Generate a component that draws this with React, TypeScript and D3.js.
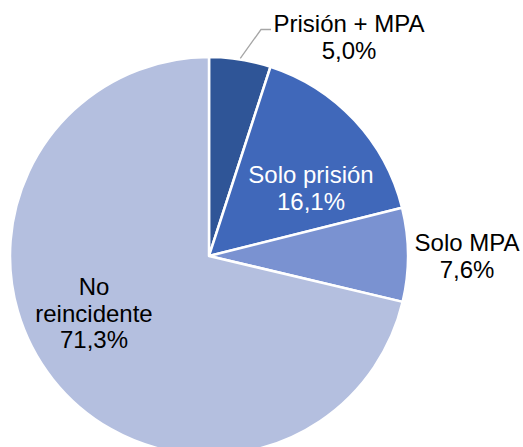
import React from "react";
import * as d3 from "d3";

const categories = ["Prisión + MPA", "Solo prisión", "Solo MPA", "No reincidente"];
const values = [5.0, 16.1, 7.6, 71.3];
const valueLabels = ["5,0%", "16,1%", "7,6%", "71,3%"];
const labelLines = [["Prisión + MPA"], ["Solo prisión"], ["Solo MPA"], ["No", "reincidente"]];
const colors = ["#2F5597", "#4068BA", "#7A92D1", "#B4BFDF"];
const textColors = ["#000000", "#FFFFFF", "#000000", "#000000"];

const W = 523;
const H = 447;
const cx = 209;
const cy = 256;
const R = 199;
const FS = 24;
const LH = 26.5;

// label anchor (center x, first baseline y)
const labelPos = [
  { x: 349, y: 32 },
  { x: 311, y: 183 },
  { x: 467, y: 251 },
  { x: 94, y: 295 },
];

export default function App() {
  const pie = d3.pie<number>().sort(null).value((d) => d);
  const arcs = pie(values);
  const arc = d3.arc<d3.PieArcDatum<number>>().innerRadius(0).outerRadius(R);

  // leader line for first slice, from its mid angle on the rim
  const a0 = arcs[0];
  const leaderAngle = (a0.startAngle + a0.endAngle) / 2;
  const lx0 = cx + Math.sin(leaderAngle) * (R + 1);
  const ly0 = cy - Math.cos(leaderAngle) * (R + 1);

  return (
    <svg width={W} height={H} style={{ position: "absolute", left: 0, top: 0 }}>
      <g transform={`translate(${cx},${cy})`}>
        {arcs.map((a, i) => (
          <path key={i} d={arc(a) || ""} fill={colors[i]} stroke="#FFFFFF" strokeWidth={2.5} strokeLinejoin="round" />
        ))}
      </g>
      <polyline
        points={`${lx0},${ly0} ${261},${29.5} ${271},${29.5}`}
        fill="none"
        stroke="#A6A6A6"
        strokeWidth={1.3}
      />
      {categories.map((c, i) => {
        const lines = [...labelLines[i], valueLabels[i]];
        return (
          <text
            key={c}
            x={labelPos[i].x}
            y={labelPos[i].y}
            textAnchor="middle"
            fontFamily="'Liberation Sans', Arial, sans-serif"
            fontSize={FS}
            fill={textColors[i]}
          >
            {lines.map((l, j) => (
              <tspan key={j} x={labelPos[i].x} dy={j === 0 ? 0 : LH}>
                {l}
              </tspan>
            ))}
          </text>
        );
      })}
    </svg>
  );
}
